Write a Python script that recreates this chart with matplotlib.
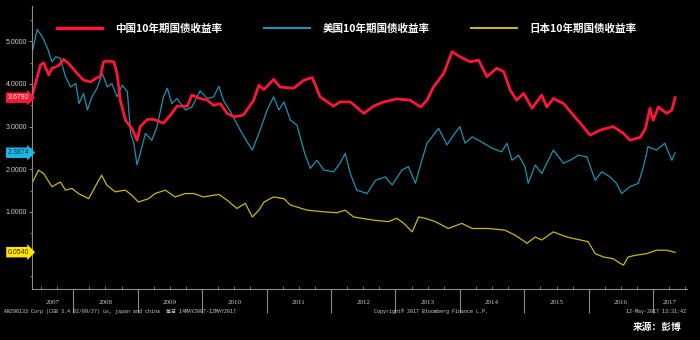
import matplotlib
matplotlib.use('Agg')
import matplotlib.pyplot as plt
import matplotlib.transforms as mtransforms
import numpy as np

# 10y government bond yields, decimal years
cn_years = [2007.36, 2007.49, 2007.54, 2007.62, 2007.67, 2007.73, 2007.78, 2007.85, 2007.93,
            2008.06, 2008.16, 2008.27, 2008.37, 2008.42, 2008.47, 2008.53, 2008.63, 2008.68,
            2008.73, 2008.81, 2008.91, 2008.99, 2009.04, 2009.15, 2009.25, 2009.40, 2009.51,
            2009.61, 2009.77, 2009.84, 2009.97, 2010.08, 2010.18, 2010.28, 2010.39, 2010.49,
            2010.64, 2010.80, 2010.88, 2010.96, 2011.11, 2011.21, 2011.42, 2011.58, 2011.71,
            2011.83, 2012.04, 2012.14, 2012.30, 2012.51, 2012.66, 2012.82, 2013.02, 2013.23,
            2013.39, 2013.49, 2013.59, 2013.75, 2013.88, 2014.00, 2014.16, 2014.29, 2014.42,
            2014.57, 2014.68, 2014.78, 2014.88, 2014.99, 2015.12, 2015.27, 2015.35, 2015.45,
            2015.61, 2015.76, 2015.87, 2016.02, 2016.18, 2016.38, 2016.54, 2016.64, 2016.80,
            2016.88, 2016.95, 2017.00, 2017.08, 2017.21, 2017.29, 2017.34]
cn_yield = [3.70, 4.44, 4.50, 4.21, 4.37, 4.40, 4.44, 4.58, 4.48,
            4.25, 4.09, 4.05, 4.15, 4.17, 4.52, 4.54, 4.52, 4.25,
            3.62, 3.15, 2.96, 2.68, 3.00, 3.17, 3.17, 3.08, 3.27,
            3.48, 3.48, 3.74, 3.66, 3.62, 3.50, 3.54, 3.31, 3.23,
            3.27, 3.62, 3.97, 3.87, 4.11, 3.93, 3.90, 4.09, 4.15,
            3.70, 3.48, 3.58, 3.58, 3.31, 3.48, 3.58, 3.65, 3.62,
            3.46, 3.62, 3.93, 4.25, 4.76, 4.64, 4.52, 4.56, 4.17,
            4.37, 4.29, 3.86, 3.62, 3.78, 3.43, 3.74, 3.46, 3.66,
            3.54, 3.27, 3.08, 2.80, 2.92, 3.00, 2.84, 2.68, 2.75,
            2.96, 3.43, 3.15, 3.46, 3.31, 3.39, 3.68]

us_years = [2007.36, 2007.44, 2007.52, 2007.60, 2007.67, 2007.73, 2007.80, 2007.88, 2007.96,
            2008.04, 2008.09, 2008.16, 2008.22, 2008.29, 2008.37, 2008.45, 2008.53, 2008.60,
            2008.68, 2008.76, 2008.84, 2008.89, 2008.94, 2008.99, 2009.04, 2009.12, 2009.22,
            2009.30, 2009.40, 2009.46, 2009.53, 2009.61, 2009.74, 2009.84, 2009.97, 2010.08,
            2010.18, 2010.26, 2010.33, 2010.44, 2010.59, 2010.70, 2010.78, 2010.90, 2011.01,
            2011.11, 2011.19, 2011.27, 2011.37, 2011.47, 2011.60, 2011.68, 2011.78, 2011.89,
            2012.04, 2012.14, 2012.22, 2012.30, 2012.40, 2012.56, 2012.69, 2012.84, 2012.95,
            2013.10, 2013.20, 2013.31, 2013.41, 2013.49, 2013.67, 2013.80, 2013.90, 2014.00,
            2014.08, 2014.19, 2014.34, 2014.50, 2014.65, 2014.73, 2014.81, 2014.91, 2015.01,
            2015.06, 2015.17, 2015.27, 2015.45, 2015.61, 2015.71, 2015.84, 2015.97, 2016.10,
            2016.20, 2016.33, 2016.43, 2016.51, 2016.64, 2016.77, 2016.85, 2016.92, 2017.05,
            2017.18, 2017.29, 2017.34]
us_yield = [4.72, 5.28, 5.11, 4.84, 4.52, 4.64, 4.60, 4.17, 3.93,
            4.01, 3.54, 3.78, 3.39, 3.70, 3.90, 4.25, 3.93, 4.01,
            3.70, 3.97, 3.82, 2.84, 2.61, 2.10, 2.37, 2.84, 2.68,
            3.00, 3.70, 3.90, 3.54, 3.66, 3.39, 3.46, 3.84, 3.66,
            3.70, 3.95, 3.62, 3.35, 2.92, 2.64, 2.45, 2.92, 3.39,
            3.70, 3.39, 3.58, 3.15, 3.04, 2.33, 2.02, 2.21, 1.98,
            1.94, 2.14, 2.37, 1.90, 1.51, 1.43, 1.74, 1.82, 1.63,
            1.98, 2.06, 1.67, 2.21, 2.61, 2.96, 2.57, 2.80, 3.00,
            2.61, 2.76, 2.64, 2.49, 2.41, 2.61, 2.21, 2.33, 2.06,
            1.67, 2.10, 1.90, 2.45, 2.14, 2.21, 2.33, 2.29, 1.74,
            1.94, 1.82, 1.67, 1.43, 1.59, 1.67, 2.06, 2.53, 2.45,
            2.61, 2.21, 2.39]

jp_years = [2007.36, 2007.46, 2007.54, 2007.67, 2007.80, 2007.88, 2007.98, 2008.08, 2008.24,
            2008.34, 2008.44, 2008.52, 2008.65, 2008.81, 2008.91, 2009.01, 2009.17, 2009.27,
            2009.43, 2009.58, 2009.74, 2009.87, 2010.02, 2010.26, 2010.39, 2010.54, 2010.67,
            2010.78, 2010.88, 2010.96, 2011.11, 2011.27, 2011.37, 2011.63, 2011.89, 2012.09,
            2012.22, 2012.35, 2012.64, 2012.89, 2013.02, 2013.13, 2013.26, 2013.36, 2013.46,
            2013.62, 2013.82, 2014.03, 2014.19, 2014.44, 2014.70, 2014.86, 2015.01, 2015.04,
            2015.17, 2015.27, 2015.45, 2015.66, 2015.87, 2015.99, 2016.10, 2016.23, 2016.38,
            2016.49, 2016.54, 2016.61, 2016.72, 2016.90, 2017.05, 2017.21, 2017.34]
jp_yield = [1.67, 1.98, 1.90, 1.59, 1.70, 1.51, 1.55, 1.43, 1.31,
            1.59, 1.86, 1.63, 1.47, 1.51, 1.39, 1.23, 1.31, 1.43,
            1.51, 1.35, 1.43, 1.43, 1.35, 1.41, 1.27, 1.08, 1.20,
            0.88, 1.04, 1.23, 1.35, 1.31, 1.16, 1.04, 1.00, 0.98,
            1.04, 0.88, 0.81, 0.77, 0.85, 0.73, 0.53, 0.88, 0.85,
            0.77, 0.61, 0.73, 0.61, 0.61, 0.57, 0.45, 0.30, 0.26,
            0.41, 0.34, 0.53, 0.41, 0.34, 0.30, 0.02, -0.06, -0.10,
            -0.21, -0.25, -0.06, -0.02, 0.02, 0.10, 0.10, 0.05]

series_names = ['中国10年期国债收益率', '美国10年期国债收益率', '日本10年期国债收益率']
last_values = [3.6792, 2.3874, 0.0540]
year_list = list(range(2007, 2018))

line_colors = ['#ff1535', '#1b93b3', '#c9b617']
tag_colors = ['#ff1535', '#1ab8e6', '#ffe600']
tag_text_colors = ['white', '#10304a', '#3a3000']
grey = '#8a8a8a'
label_grey = '#cfcfcf'
cjk = ['Noto Sans CJK SC', 'DejaVu Sans']
mono = ['Liberation Mono', 'Noto Sans CJK SC']

fig = plt.figure(figsize=(7, 3.4), dpi=100, facecolor='black')
ax = fig.add_axes([32 / 700, 1 - 289 / 340, 654.7 / 700, 283 / 340])
ax.set_facecolor('black')

ax.plot(jp_years, jp_yield, color=line_colors[2], lw=0.9, label=series_names[2])
ax.plot(us_years, us_yield, color=line_colors[1], lw=0.9, label=series_names[1])
ax.plot(cn_years, cn_yield, color=line_colors[0], lw=2.0, label=series_names[0])

x0, x1 = 2007.36, 2017.52
ax.set_xlim(x0, x1)
ax.set_ylim(-0.81, 5.83)

for s in ['top', 'right']:
    ax.spines[s].set_visible(False)
for s in ['left', 'bottom']:
    ax.spines[s].set_color(grey)
    ax.spines[s].set_linewidth(0.8)

# y axis
ax.set_yticks([1, 2, 3, 4, 5])
ax.set_yticklabels([f'{v:.4f}' for v in [1, 2, 3, 4, 5]])
ax.set_yticks(np.arange(-0.5, 5.51, 0.5), minor=True)
ax.tick_params(axis='y', which='major', colors=grey, labelcolor=label_grey,
               length=2, width=0.8, pad=1.5, labelsize=5)
ax.tick_params(axis='y', which='minor', colors=grey, length=1.5, width=0.6)
for t in ax.get_yticklabels():
    t.set_family('Liberation Sans')

# x axis: long separators at year boundaries, small quarterly ticks
ax.set_xticks(year_list[1:])
ax.set_xticklabels([])
quarters = [y + q for y in year_list for q in (0.25, 0.5, 0.75)]
ax.set_xticks([q for q in quarters if x0 < q < x1], minor=True)
ax.tick_params(axis='x', which='major', colors=grey, direction='out', length=17, width=0.8)
ax.tick_params(axis='x', which='minor', colors=grey, direction='in', length=2, width=0.6)

xtrans = mtransforms.blended_transform_factory(ax.transData, ax.transAxes)
for y in year_list:
    lo, hi = max(y, x0), min(y + 1, x1)
    ax.text((lo + hi) / 2, -0.048, str(y), transform=xtrans, ha='center', va='center',
            color=label_grey, fontsize=5, family='Liberation Serif')

# last value tags on the left axis
ytrans = mtransforms.blended_transform_factory(ax.transAxes, ax.transData)
for v, fc, tc in zip(last_values, tag_colors, tag_text_colors):
    ax.text(-0.004, v, f'{v:.4f}', transform=ytrans, ha='right', va='center',
            fontsize=5, color=tc, family='Liberation Sans', clip_on=False,
            bbox=dict(boxstyle='rarrow,pad=0.25', fc=fc, ec='none'))

# legend
handles, labels = ax.get_legend_handles_labels()
order = [2, 1, 0]
leg = ax.legend([handles[i] for i in order], [labels[i] for i in order],
                loc='center left', bbox_to_anchor=(0.038, 0.919), ncol=3,
                frameon=False, borderpad=0, borderaxespad=0,
                handlelength=4.3, handletextpad=1.2, columnspacing=4.0,
                prop={'family': cjk, 'size': 7.6, 'weight': 'bold'})
for t in leg.get_texts():
    t.set_color('white')
for h in leg.get_lines():
    h.set_linewidth(2.5 if h.get_color() == line_colors[0] else 1.5)

# footer
fig.text(4 / 700, 1 - 311 / 340, 'AN296133 Corp (CGB 3.4 02/09/27) us, japan and china  每日 14MAY2007-12MAY2017',
         color=label_grey, fontsize=3.6, family=mono, va='center', ha='left')
fig.text(374 / 700, 1 - 311 / 340, 'Copyright® 2017 Bloomberg Finance L.P.',
         color=label_grey, fontsize=3.6, family=mono, va='center', ha='left')
fig.text(686 / 700, 1 - 311 / 340, '12-May-2017 13:31:42',
         color=label_grey, fontsize=3.6, family=mono, va='center', ha='right')
fig.text(682 / 700, 1 - 327 / 340, '来源：彭博', color='white', fontsize=7,
         family=cjk, weight='bold', va='center', ha='right')

fig.savefig('out.png', dpi=100, facecolor='black')
